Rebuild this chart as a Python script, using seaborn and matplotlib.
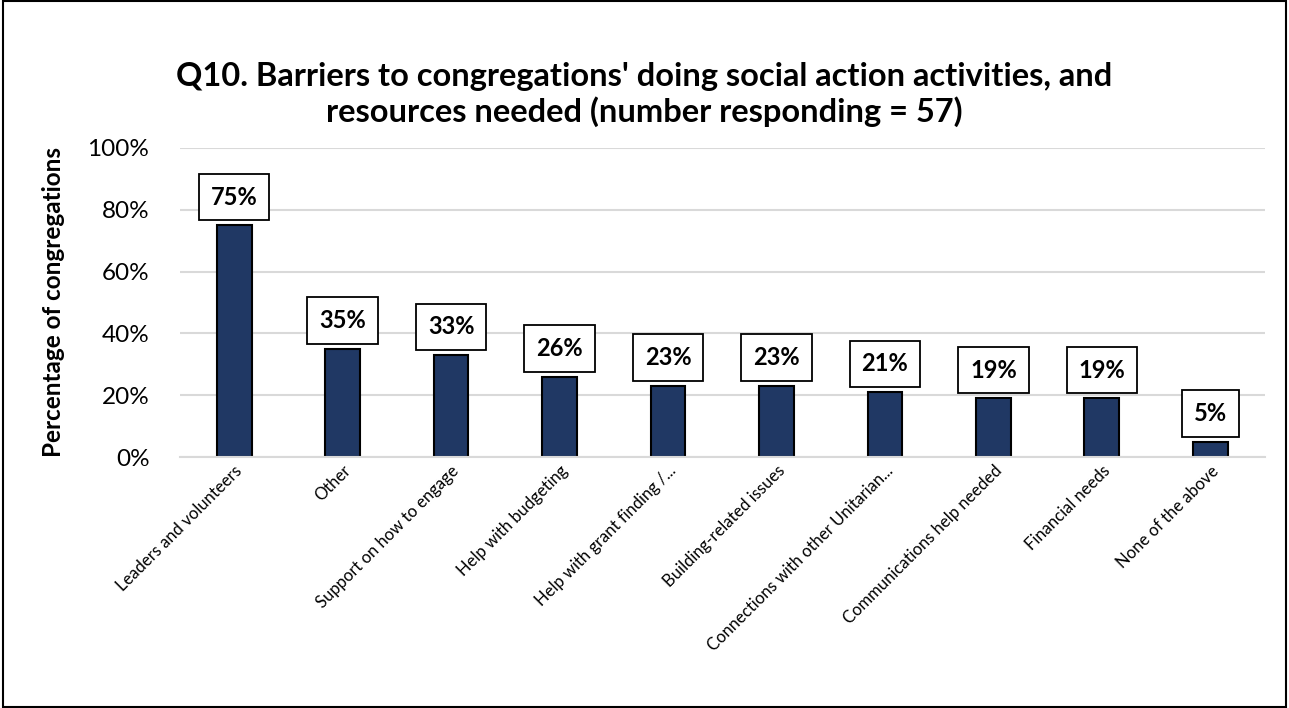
import matplotlib
matplotlib.use("Agg")
import matplotlib.pyplot as plt
import seaborn as sns
import pandas as pd
from matplotlib.patches import Rectangle
from matplotlib.ticker import FuncFormatter

categories = [
    "Leaders and volunteers",
    "Other",
    "Support on how to engage",
    "Help with budgeting",
    "Help with grant finding /...",
    "Building-related issues",
    "Connections with other Unitarian...",
    "Communications help needed",
    "Financial needs",
    "None of the above",
]
percentages = [75, 35, 33, 26, 23, 23, 21, 19, 19, 5]
y_ticks = [0, 20, 40, 60, 80, 100]

title = "Q10. Barriers to congregations' doing social action activities, and\nresources needed (number responding = 57)"
y_label = "Percentage of congregations"

sns.set_theme(style="white")
plt.rcParams["font.family"] = ["Lato", "DejaVu Sans"]
plt.rcParams["text.color"] = "black"
plt.rcParams["axes.labelcolor"] = "black"

df = pd.DataFrame({"category": categories, "pct": percentages})

fig = plt.figure(figsize=(12.89, 7.08), dpi=100)
ax = fig.add_axes([0.1396, 0.3545, 0.8414, 0.4365])

sns.barplot(data=df, x="category", y="pct", color="#203864", width=0.32,
            edgecolor="black", linewidth=1.5, saturation=1, ax=ax)

ax.set_ylim(0, 100)
ax.set_xlim(-0.5, len(categories) - 0.5)
ax.set_yticks(y_ticks)
ax.yaxis.set_major_formatter(FuncFormatter(lambda v, p: f"{v:.0f}%"))
ax.yaxis.grid(True, color="#d9d9d9", linewidth=1.5)
ax.set_axisbelow(True)
for side in ["top", "right", "left"]:
    ax.spines[side].set_visible(False)
ax.spines["bottom"].set_color("#d9d9d9")
ax.spines["bottom"].set_linewidth(1.5)
ax.tick_params(axis="y", labelsize=17.5, length=0, pad=22, colors="black")
ax.tick_params(axis="x", labelsize=12, length=0, pad=4, colors="black")
plt.setp(ax.get_xticklabels(), rotation=45, ha="right", rotation_mode="anchor")

ax.set_xlabel("")
ax.set_ylabel(y_label, fontsize=17.5, fontweight="bold", labelpad=16, color="black")

for bar, val in zip(ax.patches, percentages):
    ax.annotate(f"{val}%", (bar.get_x() + bar.get_width() / 2, bar.get_height()),
                xytext=(0, 12), textcoords="offset points", ha="center", va="bottom",
                fontsize=17, fontweight="bold", color="black",
                bbox=dict(boxstyle="square,pad=0.5", facecolor="white",
                          edgecolor="black", linewidth=1.3))

fig.suptitle(title, fontsize=23.5, fontweight="bold", y=0.913, linespacing=1.2,
             color="black")

fig.patches.append(Rectangle((0.002, 0.002), 0.996, 0.996, transform=fig.transFigure,
                             fill=False, edgecolor="black", linewidth=1.5))

fig.savefig("out.png", dpi=100)
